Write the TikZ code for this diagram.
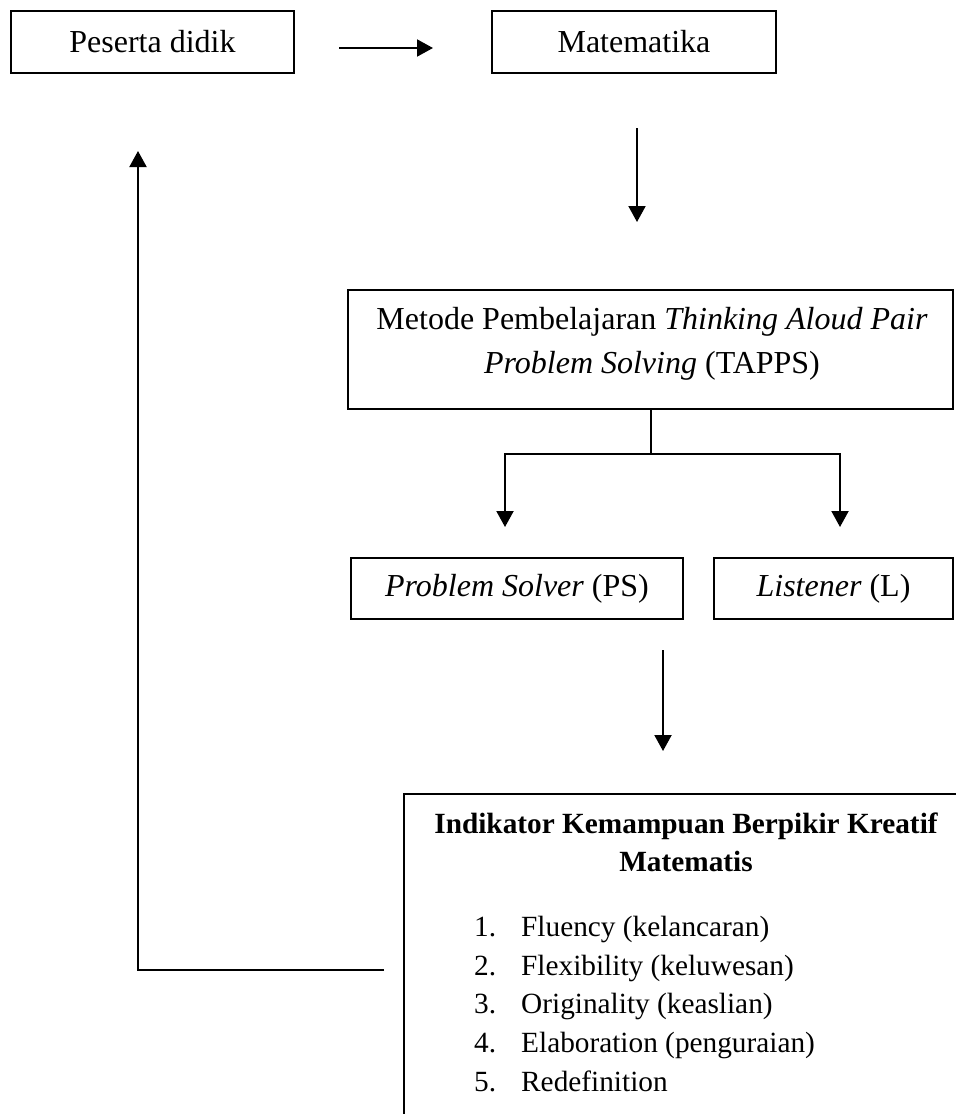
\documentclass[tikz,border=0pt]{standalone}
\usepackage{fontspec}
\setmainfont{Liberation Serif}
\usetikzlibrary{arrows.meta}
\begin{document}
\begin{tikzpicture}[x=1pt,y=-1pt,
  box/.style={draw, line width=2pt, inner sep=0pt, font=\fontsize{32}{38}\selectfont},
  conn/.style={line width=2pt},
  arr/.style={line width=2pt, -{Triangle[length=16pt,width=17pt]}},
  txt/.style={anchor=base, inner sep=0pt, font=\fontsize{32}{38}\selectfont},
  itxt/.style={anchor=base west, inner sep=0pt, font=\fontsize{29.3}{35}\selectfont},
  ttl/.style={anchor=base, inner sep=0pt, font=\fontsize{29.3}{35}\selectfont\bfseries},
]
\useasboundingbox (0,0) rectangle (956,1114);
\clip (0,0) rectangle (956,1114);

% top row
\node[box, minimum width=283, minimum height=62] (pd) at (152.5,42) {Peserta didik};
\node[box, minimum width=284, minimum height=62] (mat) at (634,42) {Matematika};
\draw[arr] ([shift={(44,6)}]pd.east) -- ([shift={(-58,6)}]mat.west);

\coordinate (m1) at (637,128);
\coordinate (m2) at (637,222);
\draw[arr] (m1) -- (m2);

% TAPPS
\node[box, minimum width=605, minimum height=119] (tapps) at (650.5,349.5) {};
\node[txt] (tl1) at (652,329) {Metode Pembelajaran \textit{Thinking Aloud Pair}};
\node[txt] (tl2) at (652,373) {\textit{Problem Solving} (TAPPS)};

\coordinate (j) at (650.5,454);
\coordinate (al) at (505,527);
\coordinate (ar) at (840,527);
\draw[conn] (tapps.south) -- (j);
\draw[arr] (j) -| (al);
\draw[arr] (j) -| (ar);

% roles
\node[box, minimum width=332, minimum height=61] (ps) at (517,588.5) {\textit{Problem Solver} (PS)};
\node[box, minimum width=239, minimum height=61] (ls) at (833.5,588.5) {\textit{Listener} (L)};

\coordinate (p1) at (663,650);
\coordinate (p2) at (663,751);
\draw[arr] (p1) -- (p2);

% indicator box
\node[draw, line width=2pt, minimum width=564, minimum height=360, inner sep=0pt] (ind) at (686,974) {};
\node[ttl] (t1) at (686,833) {Indikator Kemampuan Berpikir Kreatif};
\node[ttl] (t2) at (686,871) {Matematis};
\foreach \n/\t/\y in {1/Fluency (kelancaran)/936,2/Flexibility (keluwesan)/975,3/Originality (keaslian)/1013,4/Elaboration (penguraian)/1052,5/Redefinition/1091}{
  \node[itxt] (n\n) at (474,\y) {\n.};
  \node[itxt] (i\n) at (521,\y) {\t};
}

% feedback
\coordinate (fb0) at (384,970);
\coordinate (fb1) at (138,970);
\coordinate (fb2) at (138,151);
\draw[arr] (fb0) -- (fb1) -- (fb2);
\end{tikzpicture}
\end{document}
